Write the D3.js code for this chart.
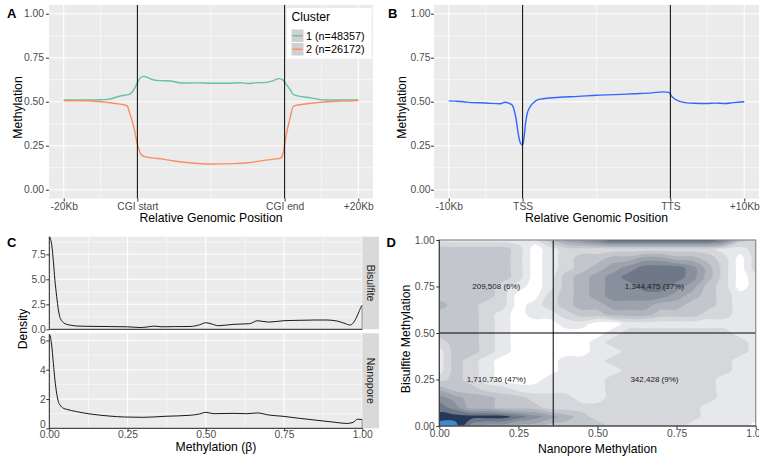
<!DOCTYPE html>
<html><head><meta charset="utf-8">
<script src="https://cdn.jsdelivr.net/npm/d3@7"></script>
<style>
body{margin:0;background:#fff}
svg{display:block}
text{font-family:"Liberation Sans",Arial,Helvetica,sans-serif}
</style>
</head><body>
<svg id="c" width="766" height="461"></svg>
<script>
// ---------------- DATA ----------------
// Panel A: x in "position units" (0=-20Kb, 1=CGI start, 3=CGI end, 4=+20Kb)
const posBreaksA = [0, 1, 3, 4];
const posLabelsA = ["-20Kb", "CGI start", "CGI end", "+20Kb"];
const clusterNames = ["1 (n=48357)", "2 (n=26172)"];
const clusterX1 = [0, 0.25, 0.5, 0.6, 0.72, 0.8, 0.88, 0.93, 0.98, 1.03, 1.08, 1.13, 1.2, 1.3, 1.45, 1.6, 1.8, 2.0, 2.2, 2.4, 2.5, 2.6, 2.75, 2.85, 2.92, 2.97, 3.02, 3.08, 3.12, 3.21, 3.3, 3.44, 3.55, 3.75, 4.0];
const clusterY1 = [0.510, 0.510, 0.511, 0.513, 0.527, 0.535, 0.540, 0.555, 0.590, 0.630, 0.644, 0.640, 0.626, 0.620, 0.618, 0.606, 0.607, 0.605, 0.605, 0.608, 0.603, 0.607, 0.610, 0.620, 0.631, 0.625, 0.600, 0.565, 0.540, 0.530, 0.525, 0.515, 0.510, 0.510, 0.510];
const clusterX2 = [0, 0.25, 0.5, 0.7, 0.86, 0.9, 0.95, 1.0, 1.05, 1.1, 1.2, 1.35, 1.5, 1.7, 2.0, 2.3, 2.5, 2.7, 2.85, 2.94, 2.98, 3.0, 3.03, 3.07, 3.12, 3.3, 3.5, 3.75, 4.0];
const clusterY2 = [0.505, 0.505, 0.500, 0.490, 0.477, 0.430, 0.360, 0.260, 0.200, 0.188, 0.181, 0.174, 0.163, 0.153, 0.146, 0.148, 0.153, 0.165, 0.174, 0.178, 0.210, 0.260, 0.330, 0.400, 0.475, 0.488, 0.497, 0.503, 0.507];

// Panel B
const posLabelsB = ["-10Kb", "TSS", "TTS", "+10Kb"];
const geneX = [0, 0.1, 0.2, 0.3, 0.5, 0.69, 0.76, 0.82, 0.86, 0.88, 0.91, 0.94, 0.963, 1.0, 1.02, 1.04, 1.06, 1.1, 1.15, 1.21, 1.3, 1.5, 1.75, 2.0, 2.25, 2.5, 2.75, 2.9, 2.98, 3.02, 3.06, 3.14, 3.2, 3.32, 3.5, 3.6, 3.75, 3.85, 4.0];
const geneY = [0.505, 0.503, 0.500, 0.495, 0.493, 0.488, 0.497, 0.490, 0.480, 0.460, 0.405, 0.320, 0.273, 0.254, 0.300, 0.380, 0.430, 0.470, 0.495, 0.512, 0.518, 0.525, 0.530, 0.537, 0.540, 0.545, 0.550, 0.556, 0.553, 0.530, 0.515, 0.500, 0.495, 0.491, 0.490, 0.492, 0.490, 0.495, 0.500];

// Panel C: density of methylation beta
const facetNames = ["Bisulfite", "Nanopore"];
const bisX = [0, 0.004, 0.008, 0.013, 0.018, 0.0235, 0.029, 0.034, 0.04, 0.045, 0.055, 0.07, 0.087, 0.12, 0.2, 0.25, 0.29, 0.31, 0.335, 0.36, 0.4, 0.45, 0.48, 0.5, 0.52, 0.54, 0.59, 0.64, 0.665, 0.7, 0.75, 0.8, 0.85, 0.886, 0.92, 0.945, 0.96, 0.97, 0.98, 0.99, 1.0];
const bisY = [9.25, 9.0, 8.4, 6.8, 4.9, 3.3, 1.95, 1.2, 0.85, 0.67, 0.5, 0.4, 0.33, 0.3, 0.27, 0.25, 0.18, 0.22, 0.32, 0.25, 0.27, 0.28, 0.45, 0.66, 0.52, 0.36, 0.5, 0.56, 0.86, 0.72, 0.86, 0.9, 0.93, 0.93, 0.82, 0.58, 0.43, 0.6, 1.1, 1.8, 2.4];
const nanoX = [0, 0.0075, 0.013, 0.018, 0.0235, 0.029, 0.034, 0.045, 0.055, 0.087, 0.13, 0.19, 0.24, 0.3, 0.37, 0.45, 0.48, 0.5, 0.525, 0.59, 0.63, 0.665, 0.7, 0.747, 0.8, 0.853, 0.906, 0.95, 0.97, 0.985, 1.0];
const nanoY = [6.42, 5.7, 4.44, 3.3, 2.4, 1.82, 1.6, 1.37, 1.3, 1.14, 0.98, 0.84, 0.77, 0.75, 0.82, 0.89, 0.98, 1.09, 1.0, 1.02, 1.0, 1.05, 0.91, 0.82, 0.68, 0.55, 0.43, 0.33, 0.4, 0.62, 0.6];

// Panel D: 2D density levels on a 21 x 21 grid (x = 0..1 step 0.05, rows from y = 1.00 down to 0.00)
const densityLevels = [
  [1,1,1,1,1,1,1,3,5,6,7,8,8,8,8,8,8,8,7,3,2],
  [3,3,3,3,3,2,0,1,2,2,2,2,2,2,2,2,2,2,1,1,2],
  [3,3,3,3,3,2,0,1,2,3,3,4,4,5,5,4,4,3,2,0,2],
  [3,3,3,3,3,2,0,1,2,3,4,5,6,7,7,7,6,4,2,0,2],
  [3,3,3,3,3,2,0,1,3,4,5,6,7,7,7,7,6,4,2,0,1],
  [3,3,3,3,2,1,0,1,3,4,5,6,6,7,7,6,5,3,2,0,1],
  [3,3,3,3,2,0,0,2,3,4,5,6,6,6,6,5,4,3,2,1,1],
  [4,3,3,2,2,0,1,2,3,4,4,5,5,5,4,4,3,3,2,1,1],
  [3,3,3,2,1,0,1,1,2,3,3,4,4,4,3,3,3,2,2,1,1],
  [3,3,3,2,1,0,0,0,1,1,0,0,1,1,1,1,1,1,1,1,1],
  [3,3,3,2,1,0,0,0,0,0,0,1,2,2,2,2,2,2,2,1,1],
  [2,3,3,2,1,0,0,0,0,0,1,2,2,2,2,2,2,2,2,2,1],
  [1,3,3,2,1,0,0,0,0,0,1,1,2,2,2,2,2,2,2,2,1],
  [1,3,2,1,0,0,0,0,1,1,1,2,2,2,2,2,2,2,2,1,1],
  [1,3,2,1,0,0,0,0,1,1,1,1,2,2,2,2,2,2,2,1,1],
  [2,3,2,1,0,0,0,1,1,1,1,2,2,2,2,2,2,2,1,1,1],
  [4,3,3,2,2,1,1,1,1,1,1,2,2,2,2,2,2,2,1,1,1],
  [6,5,4,4,3,3,2,2,2,1,1,2,2,2,2,2,2,2,1,1,1],
  [7,6,4,4,3,3,3,2,2,2,2,2,2,2,2,2,2,1,1,1,1],
  [8,8,8,8,8,7,6,5,4,3,2,2,2,2,2,2,2,1,1,1,1],
  [9,9,6,5,5,4,4,3,3,3,3,2,2,2,2,2,1,1,1,1,0]
];
const levelColors = ["#e7e8eb","#d5d7db","#c3c6cc","#b0b5bd","#9ca3ad","#87909c","#6e7886","#243a58","#3b8bd1"];
const nanoCut = 0.36, bisCut = 0.5;
const quadCounts = ["209,508 (6%)", "1,344,475 (37%)", "1,710,736 (47%)", "342,428 (9%)"];

// ---------------- DRAWING ----------------
const svg = d3.select("#c");
const TICK_COL = "#4D4D4D";
const TICK_FS = 10.3, TITLE_FS = 12.2;

function ggBg(x0, y0, x1, y1, xs, ys, xMaj, xMin, yMaj, yMin) {
  const g = svg.append("g");
  g.append("rect").attr("x", x0).attr("y", y0).attr("width", x1 - x0).attr("height", y1 - y0).attr("fill", "#EBEBEB");
  const v = (arr, w) => g.selectAll(null).data(arr).join("line")
    .attr("x1", d => xs(d)).attr("x2", d => xs(d)).attr("y1", y0).attr("y2", y1)
    .attr("stroke", "#fff").attr("stroke-width", w);
  const h = (arr, w) => g.selectAll(null).data(arr).join("line")
    .attr("y1", d => ys(d)).attr("y2", d => ys(d)).attr("x1", x0).attr("x2", x1)
    .attr("stroke", "#fff").attr("stroke-width", w);
  v(xMin, 0.55); h(yMin, 0.55); v(xMaj, 1.1); h(yMaj, 1.1);
  return g;
}
function styleAxis(g) {
  g.select(".domain").remove();
  g.selectAll(".tick line").attr("stroke", "#333").attr("stroke-width", 1);
  g.selectAll(".tick text").attr("fill", TICK_COL).attr("font-size", TICK_FS).attr("font-family", "Liberation Sans, Arial, sans-serif");
}
function yTitle(txt, x, y) {
  svg.append("text").attr("transform", `translate(${x},${y}) rotate(-90)`).attr("text-anchor", "middle")
    .attr("font-size", TITLE_FS).attr("fill", "#000").text(txt);
}
function xTitle(txt, x, y) {
  svg.append("text").attr("x", x).attr("y", y).attr("text-anchor", "middle").attr("font-size", TITLE_FS).attr("fill", "#000").text(txt);
}
function tag(t, x, y) {
  svg.append("text").attr("x", x).attr("y", y).attr("font-size", 13).attr("font-weight", "bold").attr("fill", "#000").text(t);
}
const yMajM = [0, 0.25, 0.5, 0.75, 1], yMinM = [0.125, 0.375, 0.625, 0.875];
const xMinPos = [0.5, 2, 3.5];

// ----- Panel A / B profile panels -----
function profilePanel(px0, px1, labels, series, tagLabel, tagX, titleX, ypad) {
  const py0 = 4.9, py1 = 198.5;
  const x = d3.scaleLinear().domain([-0.2, 4.2]).range([px0, px1]);
  const y = d3.scaleLinear().domain([-0.05, 1.05]).range([py1, py0]);
  ggBg(px0, py0, px1, py1, x, y, posBreaksA, xMinPos, yMajM, yMinM);
  const line = d3.line().x(d => x(d[0])).y(d => y(d[1])).curve(d3.curveMonotoneX);
  series.forEach(s => {
    svg.append("path").attr("d", line(d3.zip(s.x, s.y))).attr("fill", "none")
      .attr("stroke", s.color).attr("stroke-width", 1.4).attr("stroke-linejoin", "round");
  });
  [1, 3].forEach(b => {
    svg.append("line").attr("x1", x(b)).attr("x2", x(b)).attr("y1", py0).attr("y2", py1)
      .attr("stroke", "#000").attr("stroke-width", 1);
  });
  const ax = svg.append("g").attr("transform", `translate(${px0},0)`)
    .call(d3.axisLeft(y).tickValues(yMajM).tickFormat(d3.format(".2f")).tickSize(3).tickPadding(ypad));
  styleAxis(ax);
  const bx = svg.append("g").attr("transform", `translate(0,${py1})`)
    .call(d3.axisBottom(x).tickValues(posBreaksA).tickFormat((d, i) => labels[i]).tickSize(3).tickPadding(1.5));
  styleAxis(bx);
  yTitle("Methylation", titleX, 107.5);
  xTitle("Relative Genomic Position", (px0 + px1) / 2, 221.5);
  tag(tagLabel, tagX, 18.3);
  return { x, y };
}

profilePanel(49, 373, posLabelsA, [
  { x: clusterX1, y: clusterY1, color: "#66C2A5" },
  { x: clusterX2, y: clusterY2, color: "#FC8D62" }
], "A", 7, 21.5, 2);

// legend A
const lg = svg.append("g");
lg.append("rect").attr("x", 287).attr("y", 8).attr("width", 84.5).attr("height", 50.5).attr("fill", "#fff");
lg.append("text").attr("x", 291.5).attr("y", 21.3).attr("font-size", TITLE_FS).attr("fill", "#000").text("Cluster");
const keyColors = ["#66C2A5", "#FC8D62"];
clusterNames.forEach((n, i) => {
  const ky = 29.5 + i * 13.5;
  lg.append("rect").attr("x", 291.5).attr("y", ky).attr("width", 12).attr("height", 12.5).attr("fill", "#D0D0D0");
  lg.append("line").attr("x1", 292.5).attr("x2", 302.5).attr("y1", ky + 6.25).attr("y2", ky + 6.25)
    .attr("stroke", keyColors[i]).attr("stroke-width", 1.4);
  lg.append("text").attr("x", 306).attr("y", ky + 10).attr("font-size", 10.8).attr("fill", "#000").text(n);
});

profilePanel(434, 759, posLabelsB, [
  { x: geneX, y: geneY, color: "#3366FF" }
], "B", 388, 406, 0.5);

// ----- Panel C: faceted densities -----
const xC = d3.scaleLinear().domain([0, 1]).range([49.3, 362.3]);
const facets = [
  { name: facetNames[0], xs: bisX, ys: bisY, top: 236.7, bot: 329.3, max: 9.26, maj: [0, 2.5, 5, 7.5], min: [1.25, 3.75, 6.25, 8.75], fmt: d3.format(".1f") },
  { name: facetNames[1], xs: nanoX, ys: nanoY, top: 333.3, bot: 428.3, max: 6.49, maj: [0, 2, 4, 6], min: [1, 3, 5], fmt: d3.format("d") }
];
facets.forEach((f, fi) => {
  const y = d3.scaleLinear().domain([0, f.max]).range([f.bot, f.top]);
  ggBg(xC(0), f.top, xC(1), f.bot, xC, y, [0, 0.25, 0.5, 0.75, 1], [0.125, 0.375, 0.625, 0.875], f.maj, f.min);
  const pts = [[0, 0]].concat(d3.zip(f.xs, f.ys), [[1, 0]]);
  const line = d3.line().x(d => xC(d[0])).y(d => y(d[1])).curve(d3.curveMonotoneX);
  svg.append("path").attr("d", line(pts) + "Z").attr("fill", "none").attr("stroke", "#000").attr("stroke-width", 0.9);
  // strip
  svg.append("rect").attr("x", 362.3).attr("y", f.top).attr("width", 16.7).attr("height", f.bot - f.top).attr("fill", "#D9D9D9");
  svg.append("text").attr("transform", `translate(${362.3 + 4.6},${(f.top + f.bot) / 2}) rotate(90)`)
    .attr("text-anchor", "middle").attr("font-size", 10.5).attr("fill", "#1A1A1A").text(f.name);
  const ax = svg.append("g").attr("transform", `translate(${xC(0)},0)`)
    .call(d3.axisLeft(y).tickValues(f.maj).tickFormat(f.fmt).tickSize(3).tickPadding(0.5));
  styleAxis(ax);
  if (fi === 1) ax.selectAll(".tick text").filter(d => d === 0).attr("y", -4.6);
});
const cx = svg.append("g").attr("transform", `translate(0,428.3)`)
  .call(d3.axisBottom(xC).tickValues([0, 0.25, 0.5, 0.75, 1]).tickFormat(d3.format(".2f")).tickSize(3).tickPadding(-0.3));
styleAxis(cx);
yTitle("Density", 26.5, 329);
xTitle("Methylation (\u03b2)", 216, 451);
tag("C", 7, 246.5);

// ----- Panel D: 2D density -----
const xD = d3.scaleLinear().domain([0, 1]).range([439.3, 755.7]);
const yD = d3.scaleLinear().domain([0, 1]).range([426, 240]);
const nG = densityLevels[0].length, mG = densityLevels.length;
const flat = densityLevels.flat();
const contours = d3.contours().size([nG, mG]).thresholds(d3.range(0.5, levelColors.length, 1))(flat);
const toPx = ([gx, gy]) => [xD((gx - 0.5) / (nG - 1)), yD(1 - (gy - 0.5) / (mG - 1))];
const ringLine = d3.line().curve(d3.curveCatmullRomClosed.alpha(0.5));
const defs = svg.append("defs");
defs.append("clipPath").attr("id", "clipD").append("rect")
  .attr("x", xD(0)).attr("y", yD(1)).attr("width", xD(1) - xD(0)).attr("height", yD(0) - yD(1));
defs.append("clipPath").attr("id", "clipFig").append("rect")
  .attr("x", 0).attr("y", 0).attr("width", 759).attr("height", 461);
svg.append("rect").attr("x", xD(0)).attr("y", yD(1)).attr("width", xD(1) - xD(0)).attr("height", yD(0) - yD(1)).attr("fill", "#fff");
const dg = svg.append("g").attr("clip-path", "url(#clipD)");
dg.selectAll("path").data(contours).join("path")
  .attr("d", c => c.coordinates.map(poly => poly.map(ring => ringLine(ring.slice(0, -1).map(toPx))).join("")).join(""))
  .attr("fill-rule", "evenodd")
  .attr("fill", (d, i) => levelColors[i])
  .attr("stroke", "none");
// quadrant lines
svg.append("line").attr("x1", xD(0)).attr("x2", xD(1)).attr("y1", yD(bisCut)).attr("y2", yD(bisCut)).attr("stroke", "#000").attr("stroke-width", 1);
svg.append("line").attr("x1", xD(nanoCut)).attr("x2", xD(nanoCut)).attr("y1", yD(0)).attr("y2", yD(1)).attr("stroke", "#000").attr("stroke-width", 1);
// quadrant labels
const qx = [nanoCut / 2, (nanoCut + 1) / 2], qy = [(bisCut + 1) / 2, bisCut / 2];
quadCounts.forEach((t, i) => {
  svg.append("text").attr("x", xD(qx[i % 2])).attr("y", yD(qy[Math.floor(i / 2)]) + 2.9)
    .attr("text-anchor", "middle").attr("font-size", 8).attr("fill", "#1A1A1A").text(t);
});
// border
svg.append("rect").attr("x", xD(0)).attr("y", yD(1)).attr("width", xD(1) - xD(0)).attr("height", yD(0) - yD(1))
  .attr("fill", "none").attr("stroke", "#8a8a8a").attr("stroke-width", 1.2);
svg.append("path").attr("d", `M${xD(0)},${yD(1)}V${yD(0)}H${xD(1)}`).attr("fill", "none").attr("stroke", "#333").attr("stroke-width", 1);
const dAxL = svg.append("g").attr("transform", `translate(${xD(0)},0)`)
  .call(d3.axisLeft(yD).tickValues([0, 0.25, 0.5, 0.75, 1]).tickFormat(d3.format(".2f")).tickSize(3).tickPadding(1.5));
styleAxis(dAxL);
const dAxB = svg.append("g").attr("clip-path", "url(#clipFig)").append("g").attr("transform", `translate(0,${yD(0)})`)
  .call(d3.axisBottom(xD).tickValues([0, 0.25, 0.5, 0.75, 1]).tickFormat(d3.format(".2f")).tickSize(3).tickPadding(0.6));
styleAxis(dAxB);
yTitle("Bisulfite Methylation", 410, 339);
xTitle("Nanopore Methylation", (439.3 + 755.7) / 2, 453);
tag("D", 386.5, 246.5);
</script>
</body></html>
